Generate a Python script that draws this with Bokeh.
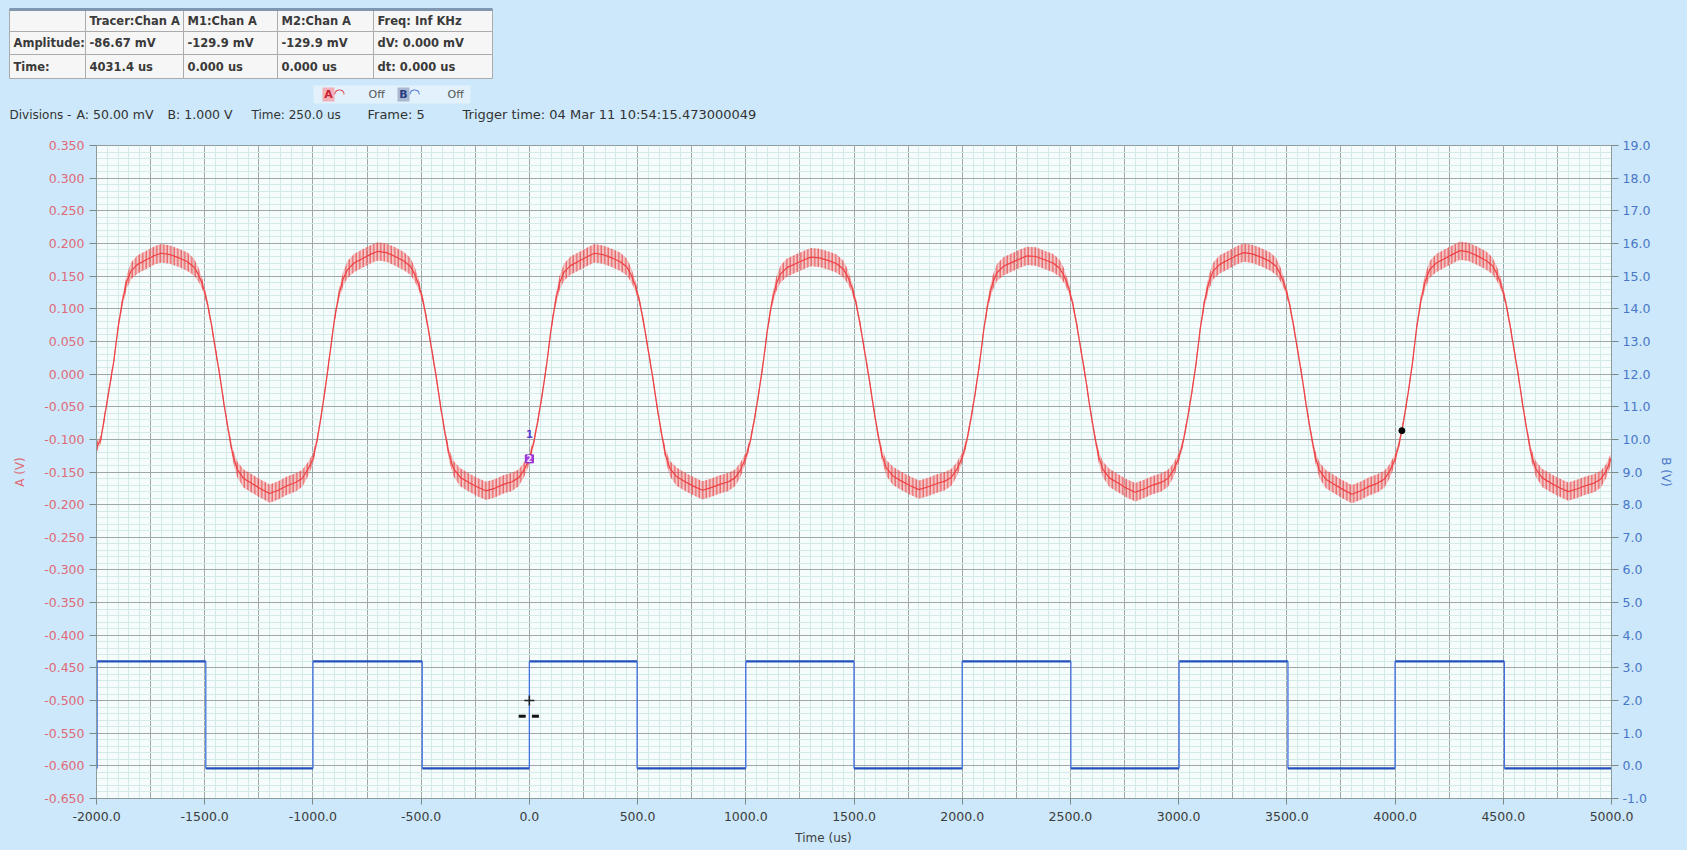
from bokeh.plotting import figure
from bokeh.layouts import column
from bokeh.models import (Range1d, LinearAxis, FixedTicker, SingleIntervalTicker,
                          PrintfTickFormatter)
from bokeh.embed import file_html
from bokeh.resources import INLINE
from bokeh.core.properties import value

# ------------------------------------------------------------------ data
x_ticks_us = [-2000, -1500, -1000, -500, 0, 500, 1000, 1500, 2000, 2500,
              3000, 3500, 4000, 4500, 5000]
a_ticks_v = [-0.650, -0.600, -0.550, -0.500, -0.450, -0.400, -0.350, -0.300,
             -0.250, -0.200, -0.150, -0.100, -0.050, 0.000, 0.050, 0.100,
             0.150, 0.200, 0.250, 0.300, 0.350]
b_ticks_v = [-1.0, 0.0, 1.0, 2.0, 3.0, 4.0, 5.0, 6.0, 7.0, 8.0, 9.0, 10.0,
             11.0, 12.0, 13.0, 14.0, 15.0, 16.0, 17.0, 18.0, 19.0]

# channel A (red) : one list of values per 1000 us cycle, read at these offsets
cycle_start_us = [-2000, -1000, 0, 1000, 2000, 3000, 4000]
phase_us = [0, 20, 40, 60, 80, 100, 120, 140, 160, 190, 230, 270, 300, 340,
            380, 420, 450, 470, 490, 510, 530, 550, 570, 590, 610, 630, 650,
            680, 720, 760, 800, 840, 880, 920, 950, 975]
a_cycle_1 = [-0.112, -0.100, -0.060, -0.020, 0.020, 0.072, 0.112, 0.142, 0.158,
             0.168, 0.175, 0.182, 0.185, 0.183, 0.178, 0.172, 0.164, 0.153,
             0.137, 0.112, 0.078, 0.037, -0.003, -0.048, -0.088, -0.124,
             -0.146, -0.160, -0.168, -0.176, -0.183, -0.178, -0.171, -0.166,
             -0.160, -0.147]
a_cycle_2 = [-0.130, -0.100, -0.060, -0.015, 0.035, 0.085, 0.122, 0.146, 0.160,
             0.170, 0.177, 0.184, 0.188, 0.186, 0.180, 0.173, 0.165, 0.153,
             0.136, 0.110, 0.075, 0.035, -0.005, -0.050, -0.090, -0.125,
             -0.145, -0.158, -0.166, -0.173, -0.179, -0.175, -0.169, -0.165,
             -0.159, -0.147]
a_cycle_3 = [-0.130, -0.105, -0.070, -0.030, 0.015, 0.068, 0.110, 0.140, 0.156,
             0.166, 0.173, 0.180, 0.185, 0.183, 0.178, 0.172, 0.164, 0.152,
             0.135, 0.110, 0.075, 0.035, -0.005, -0.050, -0.090, -0.125,
             -0.145, -0.157, -0.165, -0.172, -0.178, -0.174, -0.169, -0.165,
             -0.159, -0.147]
a_cycle_4 = [-0.128, -0.104, -0.069, -0.029, 0.016, 0.068, 0.109, 0.137, 0.153,
             0.163, 0.169, 0.175, 0.179, 0.178, 0.174, 0.169, 0.161, 0.150,
             0.133, 0.108, 0.073, 0.033, -0.007, -0.051, -0.091, -0.125,
             -0.144, -0.156, -0.164, -0.171, -0.177, -0.173, -0.168, -0.164,
             -0.158, -0.146]
a_cycle_5 = [-0.128, -0.104, -0.069, -0.029, 0.016, 0.069, 0.111, 0.139, 0.155,
             0.165, 0.171, 0.177, 0.181, 0.180, 0.175, 0.170, 0.162, 0.151,
             0.134, 0.109, 0.074, 0.034, -0.006, -0.051, -0.091, -0.126,
             -0.146, -0.159, -0.167, -0.175, -0.181, -0.176, -0.170, -0.166,
             -0.160, -0.148]
a_cycle_6 = [-0.129, -0.105, -0.070, -0.030, 0.015, 0.070, 0.112, 0.141, 0.158,
             0.168, 0.175, 0.182, 0.186, 0.184, 0.179, 0.173, 0.165, 0.153,
             0.136, 0.111, 0.076, 0.036, -0.004, -0.049, -0.089, -0.125,
             -0.147, -0.161, -0.169, -0.177, -0.184, -0.179, -0.172, -0.167,
             -0.161, -0.149]
a_cycle_7 = [-0.130, -0.105, -0.071, -0.030, 0.016, 0.072, 0.114, 0.143, 0.160,
             0.170, 0.177, 0.184, 0.189, 0.187, 0.181, 0.174, 0.166, 0.154,
             0.137, 0.112, 0.077, 0.037, -0.003, -0.048, -0.088, -0.124,
             -0.145, -0.159, -0.167, -0.174, -0.180, -0.176, -0.171, -0.167,
             -0.161, -0.149]
a_end_us = 5000
a_end_v = -0.128
# half height of the fast ripple riding on channel A, at the same offsets
a_ripple_v = [0.008, 0.006, 0.006, 0.006, 0.006, 0.006, 0.008, 0.011, 0.013,
              0.014, 0.014, 0.014, 0.014, 0.014, 0.014, 0.014, 0.013, 0.011,
              0.008, 0.006, 0.006, 0.006, 0.006, 0.006, 0.006, 0.009, 0.012,
              0.014, 0.014, 0.014, 0.014, 0.014, 0.014, 0.014, 0.013, 0.011]

# channel B (blue) : level held from each time to the next
b_time_us = [-2000, -1997, -1495, -1000, -495, 0, 498, 1000, 1500, 2000,
             2502, 3002, 3505, 4000, 4505, 5000]
b_volt_v = [-0.08, 3.20, -0.08, 3.20, -0.08, 3.20, -0.08, 3.20, -0.08, 3.20,
            -0.08, 3.20, -0.08, 3.20, -0.08, -0.08]

# markers
marker_time_us = [0.0]
marker_m1_v = [-0.0920]
marker_m2_v = [-0.1299]
tracer_time_us = [4031.4]
tracer_v = [-0.08667]
trigger_time_us = [0.0]
trigger_b_v = [2.0]
trigger_tick_time_us = [-33.0, 28.0]
trigger_tick_b_v = [1.52, 1.52]

# header texts
table_header = ["", "Tracer:Chan A", "M1:Chan A", "M2:Chan A", "Freq: Inf KHz"]
table_amp = ["Amplitude:", "-86.67 mV", "-129.9 mV", "-129.9 mV", "dV: 0.000 mV"]
table_time = ["Time:", "4031.4 us", "0.000 us", "0.000 us", "dt:  0.000 us"]
div_texts = ["Divisions -", "A: 50.00 mV", "B: 1.000 V", "Time: 250.0 us",
             "Frame: 5", "Trigger time: 04 Mar 11 10:54:15.473000049"]
x_title = "Time (us)"

# ------------------------------------------------------------------ style
BG = "#cce8fa"
FONT = value("DejaVu Sans")
W = 1687


def pixel_panel(height):
    f = figure(width=W, height=height, x_range=Range1d(0, W),
               y_range=Range1d(height, 0), output_backend="svg",
               toolbar_location=None, min_border=0,
               x_axis_type=None, y_axis_type=None)
    f.frame_align = False
    f.grid.visible = False
    f.outline_line_color = None
    f.background_fill_color = BG
    f.border_fill_color = BG
    return f


# ------------------------------------------------------------------ header
HH = 128
hdr = pixel_panel(HH)

col_x = [9, 85, 183, 277, 373, 492]
row_y = [9, 31, 54, 78]
rows = [table_header, table_amp, table_time]
ql, qr, qt, qb = [], [], [], []
tx, ty, tt = [], [], []
for r, row in enumerate(rows):
    for c, txt in enumerate(row):
        ql.append(col_x[c]); qr.append(col_x[c + 1])
        qt.append(row_y[r]); qb.append(row_y[r + 1])
        tx.append(col_x[c] + 4)
        ty.append((row_y[r] + row_y[r + 1]) / 2)
        tt.append(txt)
hdr.quad(left=ql, right=qr, top=qt, bottom=qb, fill_color="#f6f6f6",
         line_color="#ababab", line_width=1)
hdr.segment(x0=[col_x[0]], x1=[col_x[-1]], y0=[row_y[0]], y1=[row_y[0]],
            line_color="#7f97b0", line_width=3)
hdr.text(x=tx, y=ty, text=tt, text_font=FONT, text_font_size="11.5px",
         text_font_style="bold", text_color="#3a3a3a", text_baseline="middle",
         text_align="left")

# legend strip
hdr.quad(left=[313], right=[470], top=[85], bottom=[103],
         fill_color="#e2f1fb", line_color=None)
hdr.quad(left=[322, 397], right=[334, 409], top=[87, 87], bottom=[101, 101],
         fill_color=["#f2b0b8", "#a9b9d2"], line_color=None)
hdr.text(x=[328, 403], y=[94, 94], text=["A", "B"],
         text_font=FONT, text_font_size="11px", text_font_style="bold",
         text_color=["#c82030", "#2a3c80"], text_align="center",
         text_baseline="middle")
hdr.text(x=[339, 414], y=[93, 93], text=["\u25e0", "\u25e0"],
         text_font=FONT, text_font_size="13px", text_font_style="bold",
         text_color=["#e02a3a", "#2f63d6"], text_align="center",
         text_baseline="middle")
hdr.text(x=[368, 447], y=[94, 94], text=["Off", "Off"],
         text_font=FONT, text_font_size="11px", text_color="#555555",
         text_align="left", text_baseline="middle")

div_x = [9, 76, 167, 251, 367, 462]
div_size = ["12px", "12.5px", "12.5px", "12px", "13px", "13px"]
hdr.text(x=div_x, y=[114] * len(div_x), text=div_texts,
         text_font=FONT, text_font_size=div_size, text_color="#333333",
         text_align="left", text_baseline="middle")

# ------------------------------------------------------------------ main plot
p = figure(width=W, height=700, x_range=Range1d(-2000, 5000),
           y_range=Range1d(-0.65, 0.35), output_backend="svg",
           toolbar_location=None, min_border_left=96, min_border_right=W - 1611,
           min_border_top=17, min_border_bottom=30)
p.frame_align = False
p.background_fill_color = "#f6fcfc"
p.border_fill_color = BG
p.outline_line_color = "#8c9c9c"

p.extra_y_ranges = {"b": Range1d(-1.0, 19.0)}

# grids: majors every division, 5 minor subdivisions
p.xgrid.ticker = SingleIntervalTicker(interval=250, num_minor_ticks=5)
p.ygrid.ticker = SingleIntervalTicker(interval=0.05, num_minor_ticks=5)
for g in (p.xgrid, p.ygrid):
    g.grid_line_color = "#9ea8a8"
    g.grid_line_width = 1
    g.minor_grid_line_color = "#d2eae8"
    g.minor_grid_line_width = 1

# axes
xa = p.xaxis[0]
xa.ticker = FixedTicker(ticks=x_ticks_us)
xa.formatter = PrintfTickFormatter(format="%.1f")
xa.major_label_text_color = "#3c3c3c"
xa.major_tick_out = 6
xa.major_label_standoff = 7

ya = p.yaxis[0]
ya.ticker = FixedTicker(ticks=a_ticks_v)
ya.formatter = PrintfTickFormatter(format="%.3f")
ya.axis_label = "A (V)"
ya.major_label_text_color = "#e06a78"
ya.axis_label_text_color = "#e06a78"
ya.major_tick_out = 7
ya.major_label_standoff = 5
ya.axis_label_standoff = 14

ra = LinearAxis(y_range_name="b", ticker=FixedTicker(ticks=b_ticks_v),
                formatter=PrintfTickFormatter(format="%.1f"), axis_label="B (V)")
ra.major_label_text_color = "#4a76c8"
ra.axis_label_text_color = "#4a76c8"
ra.major_tick_out = 7
ra.major_label_standoff = 4
ra.axis_label_standoff = 6
p.add_layout(ra, "right")

for ax in (xa, ya, ra):
    ax.major_label_text_font = "DejaVu Sans"
    ax.major_label_text_font_size = "12.5px"
    ax.axis_label_text_font = "DejaVu Sans"
    ax.axis_label_text_font_size = "12px"
    ax.axis_label_text_font_style = "normal"
    ax.axis_line_color = "#8c9c9c"
    ax.major_tick_line_color = "#7c8888"
    ax.major_tick_in = 0
    ax.minor_tick_line_color = None

# channel A
a_cycles = [a_cycle_1, a_cycle_2, a_cycle_3, a_cycle_4, a_cycle_5, a_cycle_6, a_cycle_7]
a_t, a_v, a_r = [], [], []
for start, vals in zip(cycle_start_us, a_cycles):
    for ph, v, r in zip(phase_us, vals, a_ripple_v):
        a_t.append(start + ph)
        a_v.append(v)
        a_r.append(r)
a_t.append(a_end_us)
a_v.append(a_end_v)
a_r.append(a_ripple_v[0])

p.varea(x=a_t, y1=[v - r for v, r in zip(a_v, a_r)],
        y2=[v + r for v, r in zip(a_v, a_r)],
        fill_color="#f36a6a", fill_alpha=0.35,
        hatch_pattern="vertical_line", hatch_color="#e8383c", hatch_alpha=0.85,
        hatch_scale=3.5, hatch_weight=1.1)
p.line(a_t, a_v, line_color="#ee4044", line_width=1.2)

# channel B
hx0 = b_time_us[:-1]
hx1 = b_time_us[1:]
hy = b_volt_v[:-1]
p.segment(x0=hx0, x1=hx1, y0=hy, y1=hy, line_color="#2250bd", line_width=2.2,
          y_range_name="b")
vx = b_time_us[1:-1]
p.segment(x0=vx, x1=vx, y0=b_volt_v[:-2], y1=b_volt_v[1:-1],
          line_color="#4272e2", line_width=1.3, y_range_name="b")

# markers
p.text(x=marker_time_us, y=marker_m1_v, text=["1"], text_font=FONT,
       text_font_size="10px", text_font_style="bold", text_color="#5a3ccc",
       text_align="center", text_baseline="middle")
p.scatter(x=marker_time_us, y=marker_m2_v, marker="square", size=8,
          fill_color="#a83ee0", line_color="#8a2ac8")
p.text(x=marker_time_us, y=marker_m2_v, text=["2"], text_font=FONT,
       text_font_size="8px", text_font_style="bold", text_color="#f4e6ff",
       text_align="center", text_baseline="middle")
p.scatter(x=tracer_time_us, y=tracer_v, marker="circle", size=6,
          fill_color="black", line_color="black")
p.scatter(x=trigger_time_us, y=trigger_b_v, marker="cross", size=10,
          line_color="#222222", line_width=1.5, y_range_name="b")
p.scatter(x=trigger_tick_time_us, y=trigger_tick_b_v, marker="dash", size=7,
          line_color="#111111", line_width=3, y_range_name="b")

# ------------------------------------------------------------------ footer (x title)
ftr = pixel_panel(22)
ftr.text(x=[823], y=[9], text=[x_title], text_font=FONT, text_font_size="12px",
         text_color="#404040", text_align="center", text_baseline="middle")

layout = column(hdr, p, ftr, spacing=0, styles={"background-color": BG})
open("out.html", "w").write(file_html(layout, INLINE))
